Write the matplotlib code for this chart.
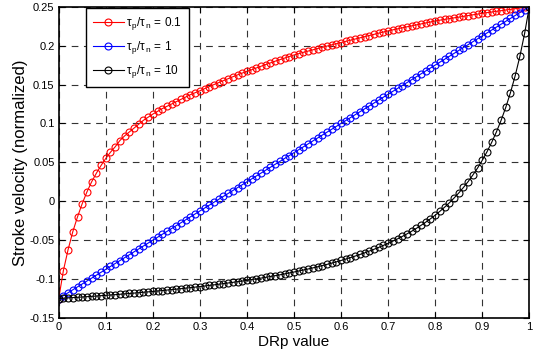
import matplotlib
matplotlib.use("Agg")
import matplotlib.pyplot as plt
from matplotlib.ticker import FuncFormatter

plt.rcParams['font.family'] = ['Liberation Sans', 'DejaVu Sans']
plt.rcParams['mathtext.fontset'] = 'custom'
plt.rcParams['mathtext.rm'] = 'Liberation Sans'
plt.rcParams['mathtext.it'] = 'Liberation Sans'
plt.rcParams['mathtext.sf'] = 'Liberation Sans'

drp = [k / 100 for k in range(101)]

red = [-0.125, -0.089, -0.062, -0.039, -0.020, -0.003, 0.012, 0.025, 0.036, 0.046,
       0.055, 0.063, 0.070, 0.078, 0.084, 0.089, 0.094, 0.099, 0.104, 0.108,
       0.112, 0.1155, 0.119, 0.122, 0.125, 0.128, 0.131, 0.134, 0.137, 0.1395,
       0.142, 0.1447, 0.1473, 0.150, 0.1525, 0.155, 0.1575, 0.160, 0.1624, 0.1647,
       0.167, 0.169, 0.1713, 0.1735, 0.1757, 0.1778, 0.180, 0.182, 0.184, 0.186,
       0.188, 0.1897, 0.1914, 0.193, 0.1946, 0.1962, 0.1978, 0.1994, 0.201, 0.2025,
       0.204, 0.2055, 0.207, 0.2085, 0.210, 0.2115, 0.213, 0.2145, 0.216, 0.2175,
       0.219, 0.2203, 0.2216, 0.2229, 0.2242, 0.2254, 0.2267, 0.2279, 0.2292, 0.2304,
       0.2317, 0.2327, 0.2337, 0.2347, 0.2357, 0.2366, 0.2376, 0.2386, 0.2396, 0.2405,
       0.2415, 0.2424, 0.2432, 0.2441, 0.2449, 0.2458, 0.2466, 0.2475, 0.2483, 0.2492,
       0.250]

blue = [-0.125, -0.12125, -0.1175, -0.11375, -0.11, -0.10625, -0.1025, -0.09875, -0.095, -0.09125,
        -0.0875, -0.08375, -0.08, -0.07625, -0.0725, -0.06875, -0.065, -0.06125, -0.0575, -0.05375,
        -0.05, -0.04625, -0.0425, -0.03875, -0.035, -0.03125, -0.0275, -0.02375, -0.02, -0.01625,
        -0.0125, -0.00875, -0.005, -0.00125, 0.0025, 0.00625, 0.01, 0.01375, 0.0175, 0.02125,
        0.025, 0.02875, 0.0325, 0.03625, 0.04, 0.04375, 0.0475, 0.05125, 0.055, 0.05875,
        0.0625, 0.06625, 0.07, 0.07375, 0.0775, 0.08125, 0.085, 0.08875, 0.0925, 0.09625,
        0.1, 0.10375, 0.1075, 0.11125, 0.115, 0.11875, 0.1225, 0.12625, 0.13, 0.13375,
        0.1375, 0.14125, 0.145, 0.14875, 0.1525, 0.15625, 0.16, 0.16375, 0.1675, 0.17125,
        0.175, 0.17875, 0.1825, 0.18625, 0.19, 0.19375, 0.1975, 0.20125, 0.205, 0.20875,
        0.2125, 0.21625, 0.22, 0.22375, 0.2275, 0.23125, 0.235, 0.23875, 0.2425, 0.24625,
        0.25]

black = [-0.1250, -0.1246, -0.1242, -0.1238, -0.1234, -0.1230, -0.1226, -0.1222, -0.1218, -0.1213,
         -0.1209, -0.1204, -0.1200, -0.1195, -0.1190, -0.1185, -0.1180, -0.1175, -0.1169, -0.1164,
         -0.1159, -0.1153, -0.1147, -0.1141, -0.1135, -0.1129, -0.1123, -0.1116, -0.1110, -0.1103,
         -0.1096, -0.1089, -0.1081, -0.1074, -0.1066, -0.1058, -0.1050, -0.1042, -0.1033, -0.1025,
         -0.1016, -0.1006, -0.0997, -0.0987, -0.0977, -0.0966, -0.0956, -0.0945, -0.0933, -0.0921,
         -0.0909, -0.0896, -0.0883, -0.0870, -0.0856, -0.0842, -0.0827, -0.0811, -0.0795, -0.0778,
         -0.0761, -0.0743, -0.0724, -0.0704, -0.0684, -0.0663, -0.0640, -0.0617, -0.0593, -0.0567,
         -0.0541, -0.0512, -0.0483, -0.0452, -0.0419, -0.0385, -0.0348, -0.0309, -0.0268, -0.0225,
         -0.0179, -0.0129, -0.0076, -0.0020, 0.0041, 0.0106, 0.0177, 0.0253, 0.0337, 0.0427,
         0.0526, 0.0635, 0.0756, 0.0890, 0.1039, 0.1207, 0.1397, 0.1614, 0.1864, 0.2156,
         0.2500]

labels = [r'$\tau_{\,p}/\tau_{\,n}$ = 0.1', r'$\tau_{\,p}/\tau_{\,n}$ = 1', r'$\tau_{\,p}/\tau_{\,n}$ = 10']
colors = ['red', 'blue', 'black']
xticks = [0, 0.1, 0.2, 0.3, 0.4, 0.5, 0.6, 0.7, 0.8, 0.9, 1]
yticks = [-0.15, -0.1, -0.05, 0, 0.05, 0.1, 0.15, 0.2, 0.25]

fig = plt.figure(figsize=(5.41, 3.59), dpi=100)
ax = fig.add_axes([0.1085, 0.1142, 0.8699, 0.8671])

for ys, c, lab in zip([red, blue, black], colors, labels):
    ax.plot(drp, ys, '-o', color=c, mfc='none', mec=c, markersize=5, lw=0.8,
            mew=0.8, label=lab)

ax.set_xlim(0, 1)
ax.set_ylim(-0.15, 0.25)
ax.set_xticks(xticks)
ax.set_yticks(yticks)
ax.xaxis.set_major_formatter(FuncFormatter(lambda v, p: '%g' % v))
ax.yaxis.set_major_formatter(FuncFormatter(lambda v, p: '%g' % round(v, 2)))
ax.tick_params(direction='in', top=True, right=True, length=4, width=0.8,
               labelsize=8, pad=3)
for s in ax.spines.values():
    s.set_linewidth(1.2)
ax.grid(True, color='#333333', linestyle=(0, (6, 5)), linewidth=0.8)

ax.set_xlabel('DRp value', fontsize=11, labelpad=2)
ax.set_ylabel('Stroke velocity (normalized)', fontsize=12, labelpad=1)

leg = ax.legend(loc='upper left', bbox_to_anchor=(0.055, 1.0), fontsize=8.5,
                frameon=True, fancybox=False, edgecolor='black', framealpha=1,
                handlelength=2.6, handletextpad=0.2, borderpad=0.6,
                labelspacing=0.6, borderaxespad=0.1)
leg.get_frame().set_linewidth(1.0)

fig.savefig('out.png', dpi=100)
